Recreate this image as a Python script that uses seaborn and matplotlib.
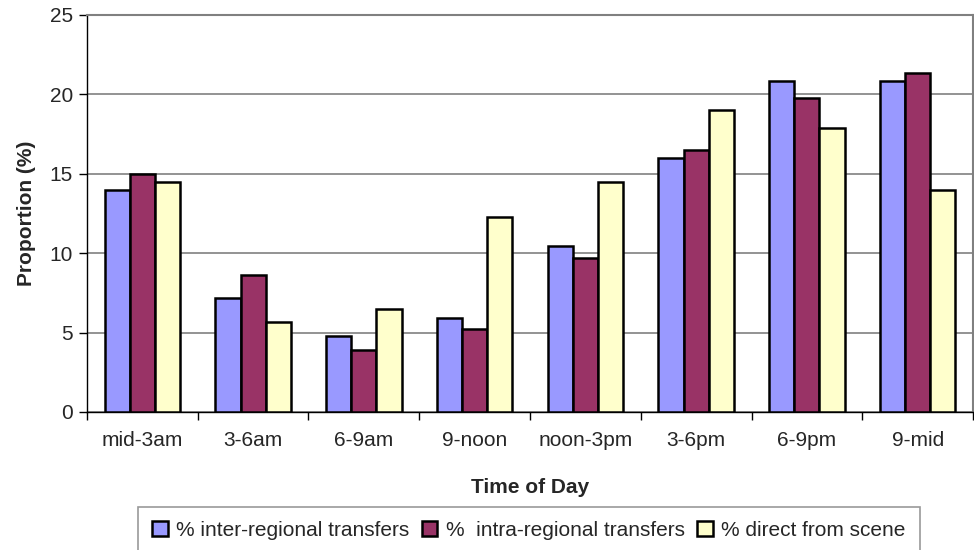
import pandas as pd
import seaborn as sns
from matplotlib import pyplot as plt

times = ['mid-3am', '3-6am', '6-9am', '9-noon', 'noon-3pm', '3-6pm', '6-9pm', '9-mid']
inter_regional = [14.0, 7.15, 4.8, 5.9, 10.45, 16.0, 20.85, 20.85]
intra_regional = [15.0, 8.65, 3.9, 5.25, 9.7, 16.5, 19.75, 21.35]
direct_scene = [14.5, 5.65, 6.5, 12.3, 14.5, 19.0, 17.85, 13.95]
series_names = ['% inter-regional transfers', '%  intra-regional transfers', '% direct from scene']
colors = ['#9999FF', '#993366', '#FFFFCC']

df = pd.DataFrame({
    'Time of Day': times * 3,
    'Proportion': inter_regional + intra_regional + direct_scene,
    'Series': [series_names[0]] * 8 + [series_names[1]] * 8 + [series_names[2]] * 8,
})

sns.set_style('white')
plt.rcParams['font.family'] = ['Liberation Sans', 'DejaVu Sans']

fig = plt.figure(figsize=(9.74, 5.5), dpi=100)
ax = fig.add_axes([0.0893, 0.251, 0.9097, 0.7219])

sns.barplot(data=df, x='Time of Day', y='Proportion', hue='Series', palette=colors,
            width=0.68, edgecolor='black', linewidth=1.8, saturation=1, ax=ax, zorder=3)

ax.set_ylim(0, 25)
ax.set_xlim(-0.5, 7.5)
ax.set_yticks([0, 5, 10, 15, 20, 25])
ax.yaxis.grid(True, color='#808080', linewidth=1.2, zorder=0)
ax.set_axisbelow(True)

for side in ['top', 'right']:
    ax.spines[side].set_color('#808080')
    ax.spines[side].set_linewidth(1.5)
for side in ['left', 'bottom']:
    ax.spines[side].set_color('black')
    ax.spines[side].set_linewidth(1.0)

# ticks between categories on x, outward on y
ax.set_xticks([i + 0.5 for i in range(-1, 8)], minor=True)
ax.tick_params(axis='x', which='minor', direction='out', length=6, width=1, color='black', bottom=True)
ax.tick_params(axis='x', which='major', length=0, labelsize=15, pad=14)
ax.tick_params(axis='y', direction='out', length=6, width=1, color='black', left=True, labelsize=15, pad=4)

ax.set_xlabel('Time of Day', fontsize=15, fontweight='bold', labelpad=20)
ax.set_ylabel('Proportion (%)', fontsize=15, fontweight='bold', labelpad=10)

handles, labels = ax.get_legend_handles_labels()
ax.get_legend().remove()
leg = fig.legend(handles, labels, loc='upper center', bbox_to_anchor=(0.543, 0.079), ncol=3,
                 frameon=True, fancybox=False, fontsize=15, handlelength=0.75, handleheight=0.75,
                 handletextpad=0.4, columnspacing=0.6, borderpad=0.7, borderaxespad=0)
leg.get_frame().set_edgecolor('#808080')
leg.get_frame().set_linewidth(1.2)

fig.savefig('out.png', dpi=100)
